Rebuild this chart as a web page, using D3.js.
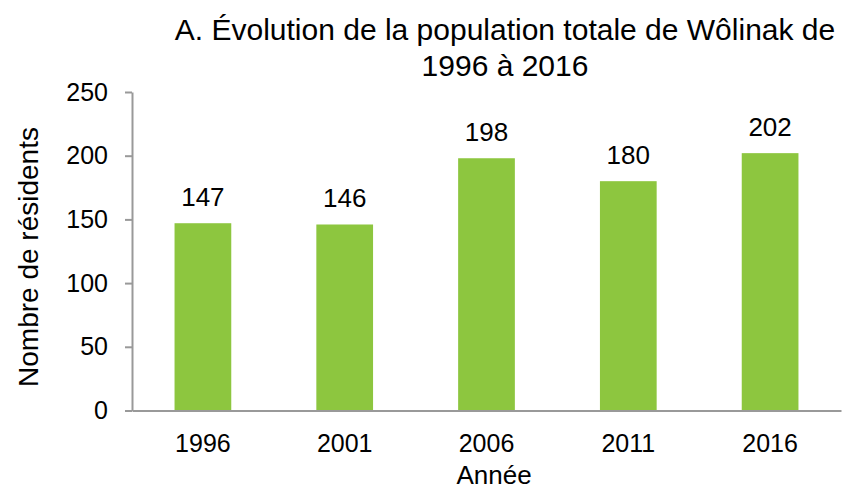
<!DOCTYPE html>
<html>
<head>
<meta charset="utf-8">
<script src="https://cdn.jsdelivr.net/npm/d3@7"></script>
<style>
  body { margin: 0; background: #fff; }
  text { font-family: "Liberation Sans", Arial, sans-serif; fill: #000; }
</style>
</head>
<body>
<div class="container"></div>
<script>
const years = ["1996", "2001", "2006", "2011", "2016"];
const residents = [147, 146, 198, 180, 202];
const yTicks = [0, 50, 100, 150, 200, 250];
const titleLines = ["A. Évolution de la population totale de Wôlinak de", "1996 à 2016"];

const W = 848, H = 489;
const plot = { left: 132, right: 841, top: 92, bottom: 410.5 };

let svg = d3.select(".container").append("svg").attr("width", W).attr("height", H);

//Scales
let xScale = d3.scaleBand().domain(years).range([plot.left, plot.right]).padding(0);
let yScale = d3.scaleLinear().domain([0, 250]).range([plot.bottom, plot.top]);
const barW = xScale.bandwidth() * 0.4;

//Bars
svg.selectAll(".bar").data(years).enter().append("rect").attr("class", "bar")
  .attr("x", d => xScale(d) + (xScale.bandwidth() - barW) / 2)
  .attr("y", (d, i) => yScale(residents[i]))
  .attr("width", barW)
  .attr("height", (d, i) => yScale(0) - yScale(residents[i]))
  .style("fill", "#8DC63F");

//Value labels
svg.selectAll(".val").data(years).enter().append("text").attr("class", "val")
  .attr("x", d => xScale(d) + xScale.bandwidth() / 2)
  .attr("y", (d, i) => yScale(residents[i]) - 17)
  .attr("text-anchor", "middle").style("font-size", "26px")
  .text((d, i) => residents[i]);

//Y axis
const yAxis = d3.axisLeft(yScale).tickValues(yTicks).tickSize(7).tickSizeOuter(0).tickPadding(17);
let gy = svg.append("g").attr("transform", "translate(" + plot.left + ",0)").call(yAxis);
gy.selectAll("path, line").attr("stroke", "#999").attr("stroke-width", 2);
gy.selectAll("text").style("font-size", "25px").style("font-family", "Liberation Sans, Arial, sans-serif").attr("fill", "#000");

//X axis (no ticks)
const xAxis = d3.axisBottom(xScale).tickSize(0).tickSizeOuter(0).tickPadding(24);
let gx = svg.append("g").attr("transform", "translate(0," + plot.bottom + ")").call(xAxis);
gx.select("path").attr("stroke", "#999").attr("stroke-width", 2);
gx.selectAll("text").style("font-size", "25px").style("font-family", "Liberation Sans, Arial, sans-serif").attr("fill", "#000");

//Axis titles
svg.append("text").attr("x", 494).attr("y", 484).attr("text-anchor", "middle").style("font-size", "26px").text("Année");
svg.append("text").attr("transform", "translate(38,257) rotate(-90)").attr("text-anchor", "middle").style("font-size", "28px").text("Nombre de résidents");

//Title
svg.selectAll(".title").data(titleLines).enter().append("text").attr("class", "title")
  .attr("x", 505).attr("y", (d, i) => 40 + i * 36)
  .attr("text-anchor", "middle").style("font-size", "30px")
  .text(d => d);
</script>
</body>
</html>
